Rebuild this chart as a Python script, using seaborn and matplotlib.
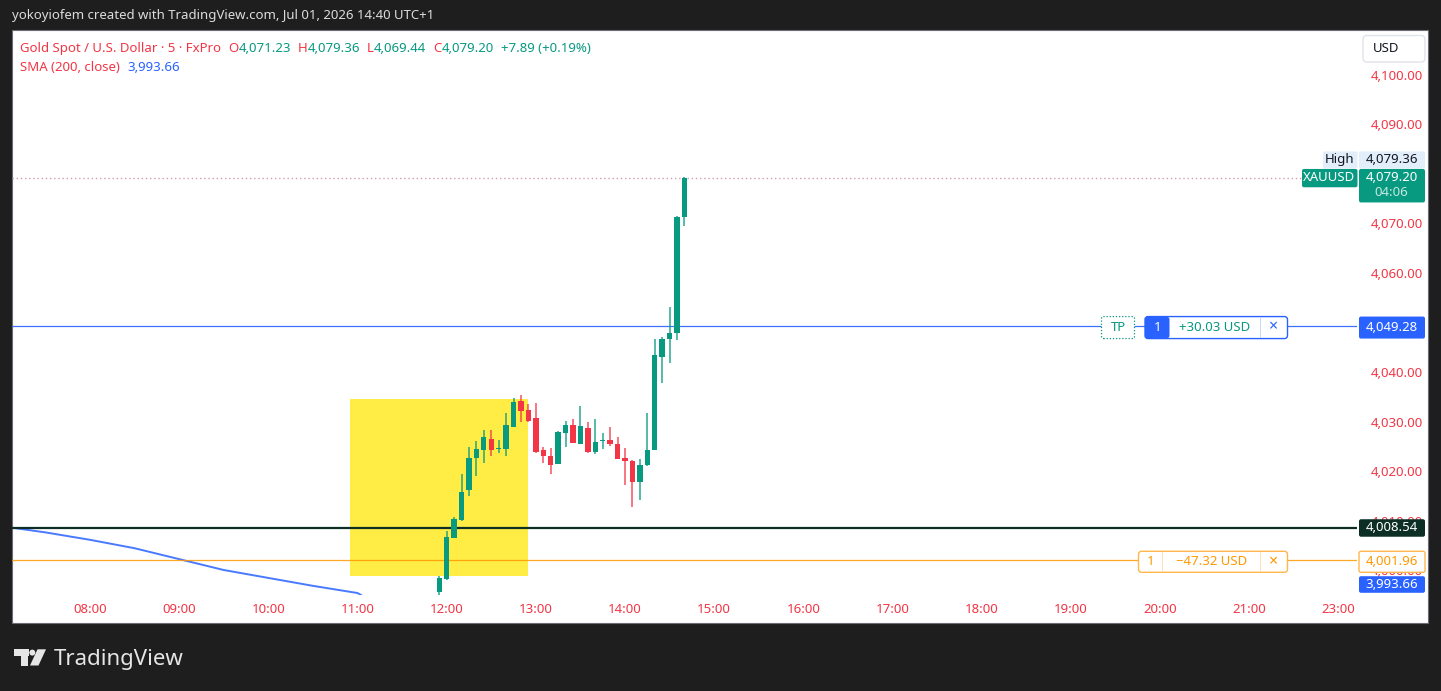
import matplotlib
matplotlib.use("Agg")
import numpy as np
import pandas as pd
import matplotlib.pyplot as plt
import seaborn as sns
from matplotlib.patches import Rectangle, FancyBboxPatch, Circle, Polygon
from matplotlib.transforms import IdentityTransform

# ---------------- data ----------------
candle_times = ["11:55", "12:00", "12:05", "12:10", "12:15", "12:20", "12:25", "12:30",
                "12:35", "12:40", "12:45", "12:50", "12:55", "13:00", "13:05", "13:10",
                "13:15", "13:20", "13:25", "13:30", "13:35", "13:40", "13:45", "13:50",
                "13:55", "14:00", "14:05", "14:10", "14:15", "14:20", "14:25", "14:30",
                "14:35", "14:40"]
opens = [3995.60, 3998.10, 4006.50, 4010.20, 4016.10, 4022.60, 4024.20, 4026.55,
         4024.50, 4024.40, 4028.90, 4034.15, 4032.25, 4030.65, 4024.20, 4023.05,
         4021.50, 4027.75, 4029.20, 4025.55, 4028.70, 4023.90, 4026.00, 4026.30,
         4025.50, 4022.60, 4022.05, 4017.80, 4021.20, 4024.30, 4043.10, 4046.60,
         4047.80, 4071.23]
highs = [3998.85, 4007.90, 4010.75, 4019.40, 4024.90, 4026.00, 4028.20, 4028.20,
         4026.30, 4031.80, 4034.80, 4035.35, 4033.50, 4033.80, 4024.75, 4024.70,
         4028.10, 4030.10, 4030.45, 4033.05, 4030.00, 4030.45, 4027.60, 4028.80,
         4026.90, 4024.70, 4022.20, 4022.40, 4031.80, 4046.60, 4047.10, 4053.10,
         4071.60, 4079.36]
lows = [3994.00, 3998.00, 4006.40, 4009.90, 4015.00, 4019.00, 4021.60, 4023.05,
        4023.60, 4023.05, 4028.80, 4029.80, 4030.00, 4023.70, 4021.60, 4019.35,
        4021.40, 4024.90, 4025.60, 4025.50, 4023.70, 4023.40, 4024.50, 4025.05,
        4022.40, 4017.10, 4012.80, 4014.10, 4021.10, 4024.20, 4037.80, 4041.90,
        4046.40, 4069.44]
closes = [3998.40, 4006.60, 4010.30, 4015.80, 4022.70, 4024.50, 4026.80, 4024.25,
          4024.70, 4029.20, 4034.00, 4032.10, 4030.10, 4023.90, 4023.00, 4021.30,
          4027.90, 4029.25, 4025.70, 4029.00, 4023.80, 4025.95, 4026.20, 4025.40,
          4022.50, 4022.00, 4017.80, 4021.20, 4024.30, 4043.35, 4046.60, 4047.90,
          4071.31, 4079.20]

sma_times = ["07:05", "07:30", "08:00", "08:30", "09:00", "09:30", "10:00", "10:30",
             "11:00", "11:05", "11:30", "12:00", "13:00", "14:00", "14:40"]
sma_values = [4008.65, 4007.60, 4006.10, 4004.40, 4002.20, 4000.00, 3998.40, 3996.80,
              3995.35, 3994.50, 3994.30, 3994.10, 3993.90, 3993.75, 3993.66]

hour_tick_labels = ["08:00", "09:00", "10:00", "11:00", "12:00", "13:00", "14:00", "15:00",
                    "16:00", "17:00", "18:00", "19:00", "20:00", "21:00", "23:00"]
price_ticks = [4000, 4010, 4020, 4030, 4040, 4050, 4060, 4070, 4080, 4090, 4100]
hidden_price_ticks = [4050, 4080]   # fully covered by the price labels in the chart

tp_price = 4049.28
entry_price = 4008.54
sl_price = 4001.96
sma_last = 3993.66
tp_pnl = "+30.03 USD"
sl_pnl = "\u221247.32 USD"
countdown = "04:06"
zone_start, zone_end = "10:55", "12:55"
zone_top, zone_bottom = 4034.5, 3998.8

header_text = "yokoyiofem created with TradingView.com, Jul 01, 2026 14:40 UTC+1"
symbol_title = "Gold Spot / U.S. Dollar \u00b7 5 \u00b7 FxPro"
sma_title = "SMA (200, close)"

# ---------------- style ----------------
sns.set_theme(style="white")
plt.rcParams["font.family"] = ["Noto Sans", "DejaVu Sans"]

RED = "#f23645"
GREEN = "#089981"
BLUE = "#2962ff"
ORANGE = "#ff9800"
DARK = "#0c2e25"

W, H = 1441, 691
fig = plt.figure(figsize=(W / 100, H / 100), dpi=100)
fig.patch.set_facecolor("#1e1e1e")

# white chart panel
fig.add_artist(Rectangle((12, H - 623), 1416, 593, transform=IdentityTransform(),
                         fc="white", ec="#6a6d78", lw=0.8, zorder=-1))

ax = fig.add_axes([12 / W, 1 - 595 / H, (1357 - 12) / W, (595 - 30) / H])
ax.set_facecolor("none")


def bar_index(t):
    h, m = map(int, t.split(":"))
    return ((h - 12) * 60 + m) / 5.0


df = pd.DataFrame({"t": candle_times, "o": opens, "h": highs, "l": lows, "c": closes})
df["x"] = df["t"].map(bar_index)
df["up"] = df["c"] >= df["o"]
df["col"] = np.where(df["up"], GREEN, RED)
df["bot"] = df[["o", "c"]].min(axis=1)
df["hgt"] = (df["c"] - df["o"]).abs().clip(lower=0.22)

sma = pd.DataFrame({"x": [bar_index(t) for t in sma_times], "v": sma_values})

# yellow zone
x0z, x1z = bar_index(zone_start), bar_index(zone_end)
ax.add_patch(Rectangle((x0z, zone_bottom), x1z - x0z, zone_top - zone_bottom,
                       fc="#ffeb3b", ec="none", alpha=0.95, zorder=1))

# SMA
sns.lineplot(data=sma, x="x", y="v", ax=ax, color=BLUE, lw=1.4, alpha=0.85,
             estimator=None, sort=False, zorder=2)

# horizontal levels
ax.axhline(tp_price, color=BLUE, lw=0.9, alpha=0.9, zorder=2)
ax.axhline(entry_price, color=DARK, lw=1.6, zorder=2)
ax.axhline(sl_price, color=ORANGE, lw=0.9, alpha=0.85, zorder=2)
ax.axhline(closes[-1], color="#d59ab4", lw=1.0, ls=(0, (1, 2)), zorder=2)

# candles
ax.vlines(df["x"], df["l"], df["h"], colors=df["col"], lw=1.2, alpha=0.8, zorder=3)
ax.bar(df["x"], df["hgt"], bottom=df["bot"], width=0.72, color=df["col"],
       edgecolor="none", zorder=4)

# axes / scales
ax.set_xlim(-58.49, 122.5)
ax.set_ylim(3994.95, 4109.09)
for s in ax.spines.values():
    s.set_visible(False)
ax.grid(False)
ax.set_xlabel("")
ax.set_ylabel("")

tick_pos = [bar_index(f"{8 + i:02d}:00") for i in range(len(hour_tick_labels))]
ax.set_xticks(tick_pos, hour_tick_labels)
ax.tick_params(axis="x", length=0, pad=5.5, labelcolor=RED, labelsize=9.5)

ax.yaxis.tick_right()
ax.set_yticks(price_ticks, ["" if p in hidden_price_ticks else f"{p:,.2f}"
                            for p in price_ticks])
ax.tick_params(axis="y", length=0, pad=47.5, labelcolor=RED, labelsize=9.5)
for lab in ax.get_yticklabels():
    lab.set_horizontalalignment("right")


# ---------------- overlay helpers (pixel coords, top origin) ----------------
def ypx(p):
    return H - ax.transData.transform((0, p))[1]


def box(x0, y0, x1, y1, fc, ec="none", lw=0.0, ls="-", r=2.0, z=5, alpha=1.0):
    fig.add_artist(FancyBboxPatch((x0, H - y1), x1 - x0, y1 - y0,
                                  boxstyle=f"round,pad=0,rounding_size={r}",
                                  transform=IdentityTransform(), fc=fc, ec=ec,
                                  lw=lw, ls=ls, zorder=z, alpha=alpha))


def txt(x, y, s, color, size=9.5, ha="left", weight="normal", z=6, va="center"):
    return fig.text(x / W, 1 - y / H, s, color=color, fontsize=size, ha=ha, va=va,
                    weight=weight, zorder=z)


def vline_px(x, y0, y1, color, z=6):
    fig.add_artist(Rectangle((x - 0.5, H - y1), 1, y1 - y0, transform=IdentityTransform(),
                             fc=color, ec="none", zorder=z))


PX0, PX1, PXC = 1359, 1425, 1392

# header texts
txt(12, 15, header_text, "#dcdcdc", size=9.5)

renderer = fig.canvas.get_renderer()


def chain(x, y, parts):
    for s, col, gap in parts:
        x += gap
        t = fig.text(x / W, 1 - y / H, s, color=col, fontsize=9.5, ha="left",
                     va="baseline", zorder=6)
        bb = t.get_window_extent(renderer)
        x = bb.x1


chg = closes[-1] - closes[-2]
pct = chg / closes[-2] * 100
chain(20, 52, [(symbol_title, RED, 0),
               ("O", RED, 7), (f"{opens[-1]:,.2f}", GREEN, 0),
               ("H", RED, 7), (f"{highs[-1]:,.2f}", GREEN, 0),
               ("L", RED, 7), (f"{lows[-1]:,.2f}", GREEN, 0),
               ("C", RED, 7), (f"{closes[-1]:,.2f}", GREEN, 0),
               (f"{chg:+.2f} ({pct:+.2f}%)", GREEN, 7)])
chain(20, 71, [(sma_title, RED, 0), (f"{sma_values[-1]:,.2f}", BLUE, 7)])

# USD box
box(1363, 35.5, 1425, 62, "white", ec="#e0e3eb", lw=1.0, r=4)
txt(1373, 48.5, "USD", "#131722", size=9.5)

# High + last price
yl = ypx(closes[-1])
box(1323, yl - 26.5, 1357.5, yl - 9.5, "#e3eefb", r=1.5)
txt(1340, yl - 18, "High", "#131722", size=9.5, ha="center")
box(PX0, yl - 26.5, PX1, yl - 9.5, "#e3eefb", r=1.5)
txt(PXC, yl - 18, f"{highs[-1]:,.2f}", "#131722", size=9.5, ha="center")
box(1302, yl - 9, 1357.5, yl + 9.3, GREEN, r=2)
txt(1329.5, yl, "XAUUSD", "white", size=9.5, ha="center")
box(PX0, yl - 9, PX1, yl + 24.5, GREEN, r=2)
txt(PXC, yl, f"{closes[-1]:,.2f}", "white", size=9.5, ha="center")
txt(PXC - 1, yl + 15, countdown, "#c4e8df", size=9.5, ha="center")

# TP line annotations
yt = ypx(tp_price) + 1.5
box(1101.5, yt - 11, 1134.5, yt + 11, "white", ec=GREEN, lw=0.9, ls=(0, (1, 1.5)), r=2)
txt(1118, yt, "TP", GREEN, size=9.5, ha="center")
box(1145, yt - 11, 1287.5, yt + 11, "white", ec=BLUE, lw=1.0, r=3)
box(1145, yt - 11, 1169.5, yt + 11, BLUE, r=3, z=5.5)
txt(1157.3, yt, "1", "white", size=9.5, ha="center")
txt(1215, yt, tp_pnl, GREEN, size=9.5, ha="center")
vline_px(1260.7, yt - 10, yt + 10, "#c9d6ff")
txt(1273.5, yt, "\u00d7", BLUE, size=11.5, ha="center")
box(PX0, yt - 11, PX1, yt + 11, BLUE, r=2)
txt(PXC, yt, f"{tp_price:,.2f}", "white", size=9.5, ha="center")

# entry label
ye = ypx(entry_price)
box(PX0, ye - 8.5, PX1, ye + 9, DARK, r=2)
txt(PXC, ye, f"{entry_price:,.2f}", "white", size=9.5, ha="center")

# SL annotations
ys = ypx(sl_price) + 1.5
box(1138.5, ys - 10.5, 1287.5, ys + 10.5, "white", ec="#ffb74d", lw=1.0, r=3)
txt(1150.5, ys, "1", ORANGE, size=9.5, ha="center")
vline_px(1162.7, ys - 10, ys + 10, "#ffe0b2")
txt(1211.5, ys, sl_pnl, ORANGE, size=9.5, ha="center")
vline_px(1260.7, ys - 10, ys + 10, "#ffe0b2")
txt(1273.5, ys, "\u00d7", ORANGE, size=11.5, ha="center")
box(PX0, ys - 10.5, PX1, ys + 10.5, "white", ec="#ffb74d", lw=1.0, r=2)
txt(PXC, ys, f"{sl_price:,.2f}", ORANGE, size=9.5, ha="center")

# SMA label (clamped to bottom of pane)
ym = min(ypx(sma_last), ypx(ax.get_ylim()[0]) - 10.5)
box(PX0, ym - 8.3, PX1, ym + 8.3, BLUE, r=2)
txt(PXC, ym, f"{sma_last:,.2f}", "white", size=9.5, ha="center")

# TradingView logo
LC = "#e6e6e6"
fig.add_artist(Rectangle((13.5, H - 655.5), 15, 6.2, transform=IdentityTransform(),
                         fc=LC, ec="none"))
fig.add_artist(Rectangle((20.8, H - 665.5), 7.5, 16.2, transform=IdentityTransform(),
                         fc=LC, ec="none"))
fig.add_artist(Circle((32.3, H - 652.6), 3.0, transform=IdentityTransform(), fc=LC,
                      ec="none"))
fig.add_artist(Polygon([(37.5, H - 649.3), (46, H - 649.3), (38.5, H - 665.5),
                        (30, H - 665.5)], closed=True, transform=IdentityTransform(),
                       fc=LC, ec="none"))
txt(54, 665.5, "TradingView", LC, size=16, weight="bold", va="baseline")

fig.savefig("out.png", dpi=100, facecolor=fig.get_facecolor())
